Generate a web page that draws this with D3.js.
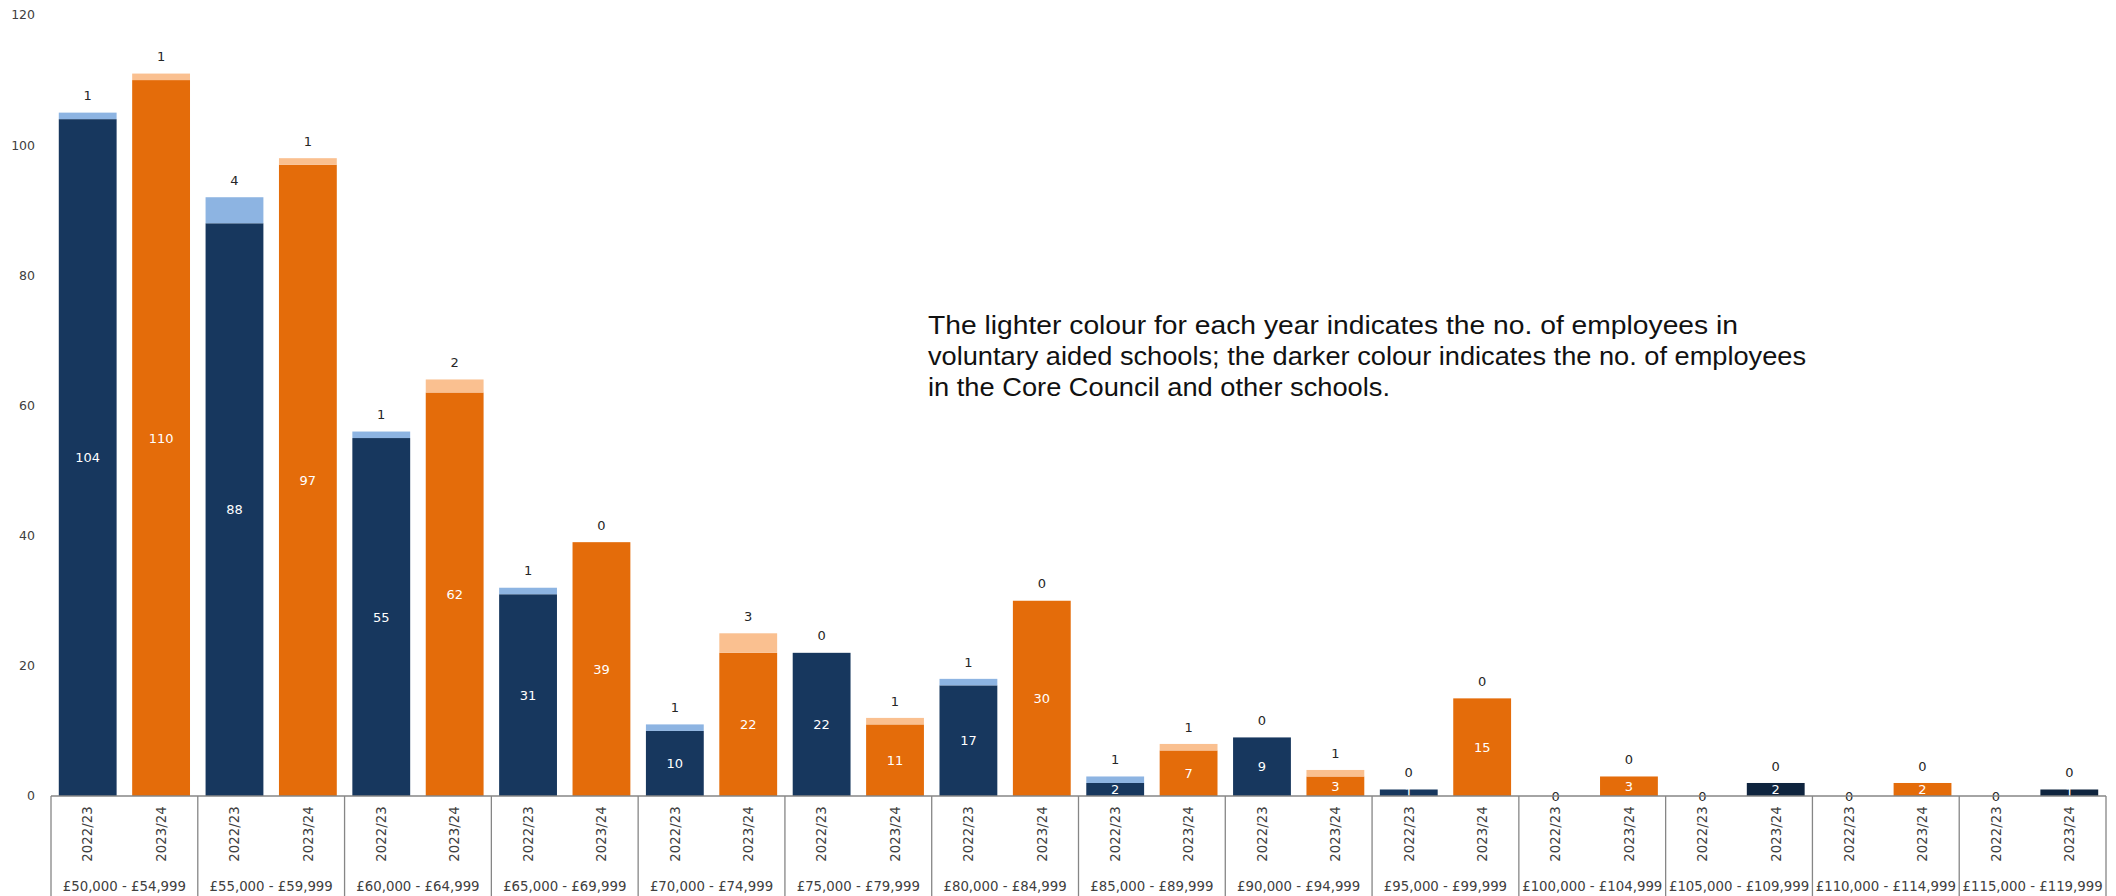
<!DOCTYPE html>
<meta charset="utf-8">
<style>
  body { margin: 0; background: #fff; }
  text { font-family: "DejaVu Sans", sans-serif; }
</style>

<!-- Load d3.js -->
<script src="https://cdn.jsdelivr.net/npm/d3@7"></script>

<div id="chart"></div>

<script>

// salary bands (outer category) and years (inner category)
var salaryBands = ["£50,000 - £54,999", "£55,000 - £59,999", "£60,000 - £64,999", "£65,000 - £69,999",
  "£70,000 - £74,999", "£75,000 - £79,999", "£80,000 - £84,999", "£85,000 - £89,999",
  "£90,000 - £94,999", "£95,000 - £99,999", "£100,000 - £104,999", "£105,000 - £109,999",
  "£110,000 - £114,999", "£115,000 - £119,999"];
var years = ["2022/23", "2023/24"];

// core council and other schools (darker colour)
var core2223 = [104, 88, 55, 31, 10, 22, 17, 2, 9, 1, 0, 0, 0, 0];
var core2324 = [110, 97, 62, 39, 22, 11, 30, 7, 3, 15, 3, 2, 2, 1];
// voluntary aided schools (lighter colour)
var va2223 = [1, 4, 1, 1, 1, 0, 1, 1, 0, 0, 0, 0, 0, 0];
var va2324 = [1, 1, 2, 0, 3, 1, 0, 1, 1, 0, 0, 0, 0, 0];

var yTicks = [0, 20, 40, 60, 80, 100, 120];

var note = ["The lighter colour for each year indicates the no. of employees in",
  "voluntary aided schools; the darker colour indicates the no. of employees",
  "in the Core Council and other schools."];
var noteWidths = [810, 878, 462];

// colours
var darkColor = {"2022/23": "#17375E", "2023/24": "#E46C0A"};
var lightColor = {"2022/23": "#8DB4E2", "2023/24": "#FAC090"};
var darkestNavy = "#0F243E";
var darkestBars = ["£105,000 - £109,999|2023/24", "£115,000 - £119,999|2023/24"];

var width = 2116, height = 896;
var plotLeft = 51, plotRight = 2106, plotBottom = 796, plotTop = 15;

var svg = d3.select("#chart")
  .append("svg")
    .attr("width", width)
    .attr("height", height);

// build rows: one per bar
var rows = [];
salaryBands.forEach(function(band, i) {
  rows.push({band: band, year: "2022/23", core: core2223[i], va: va2223[i]});
  rows.push({band: band, year: "2023/24", core: core2324[i], va: va2324[i]});
});

// scales
var x0 = d3.scaleBand()
  .domain(salaryBands)
  .range([plotLeft, plotRight])
  .padding(0);

var x1 = d3.scaleBand()
  .domain(years)
  .range([0, x0.bandwidth()])
  .paddingInner(0.212)
  .paddingOuter(0.106);

var y = d3.scaleLinear()
  .domain([0, 120])
  .range([plotBottom, plotTop]);

// y tick labels (no axis line in the original)
svg.append("g")
  .selectAll("text")
  .data(yTicks)
  .enter()
  .append("text")
    .attr("x", 35)
    .attr("y", function(d) { return y(d); })
    .attr("dy", "0.35em")
    .attr("text-anchor", "end")
    .style("font-size", "12.5px")
    .style("fill", "#404040")
    .text(function(d) { return d; });

// bars
var bars = svg.append("g")
  .selectAll("g")
  .data(rows)
  .enter()
  .append("g")
    .attr("transform", function(d) { return "translate(" + (x0(d.band) + x1(d.year)) + ",0)"; });

bars.append("rect")
  .attr("x", 0)
  .attr("width", x1.bandwidth())
  .attr("y", function(d) { return y(d.core); })
  .attr("height", function(d) { return y(0) - y(d.core); })
  .attr("fill", function(d) {
    if (darkestBars.indexOf(d.band + "|" + d.year) >= 0) return darkestNavy;
    return darkColor[d.year];
  });

bars.append("rect")
  .attr("x", 0)
  .attr("width", x1.bandwidth())
  .attr("y", function(d) { return y(d.core + d.va); })
  .attr("height", function(d) { return y(d.core) - y(d.core + d.va); })
  .attr("fill", function(d) { return lightColor[d.year]; });

// value labels for the darker part, centred inside the bar
bars.filter(function(d) { return d.core > 0; })
  .append("text")
    .attr("x", x1.bandwidth() / 2)
    .attr("y", function(d) { return (y(0) + y(d.core)) / 2; })
    .attr("dy", "0.36em")
    .attr("text-anchor", "middle")
    .style("font-size", "13px")
    .style("fill", "#fff")
    .text(function(d) { return d.core; });

// value labels for the lighter part, above the bar
bars.append("text")
  .attr("x", x1.bandwidth() / 2)
  .attr("y", function(d) {
    if (d.core + d.va == 0) return y(0);
    return y(d.core + d.va) - 17;
  })
  .attr("dy", "0.36em")
  .attr("text-anchor", "middle")
  .style("font-size", "13px")
  .style("fill", "#262626")
  .text(function(d) { return d.va; });

// category axis: baseline and group boxes
var axis = svg.append("g");

axis.append("line")
  .attr("x1", plotLeft)
  .attr("x2", plotRight)
  .attr("y1", plotBottom)
  .attr("y2", plotBottom)
  .attr("stroke", "#868686")
  .attr("stroke-width", 1.3);

axis.selectAll("line.sep")
  .data(salaryBands.concat(["end"]))
  .enter()
  .append("line")
    .attr("class", "sep")
    .attr("x1", function(d, i) { return plotLeft + i * x0.step(); })
    .attr("x2", function(d, i) { return plotLeft + i * x0.step(); })
    .attr("y1", plotBottom)
    .attr("y2", height)
    .attr("stroke", "#868686")
    .attr("stroke-width", 1.3);

// year labels, rotated
axis.selectAll("text.year")
  .data(rows)
  .enter()
  .append("text")
    .attr("class", "year")
    .attr("transform", function(d) {
      var cx = x0(d.band) + x1(d.year) + x1.bandwidth() / 2;
      return "translate(" + cx + ",834) rotate(-90)";
    })
    .attr("dy", "0.36em")
    .attr("text-anchor", "middle")
    .style("font-size", "13.3px")
    .style("fill", "#404040")
    .text(function(d) { return d.year; });

// salary band labels
axis.selectAll("text.band")
  .data(salaryBands)
  .enter()
  .append("text")
    .attr("class", "band")
    .attr("x", function(d) { return x0(d) + x0.bandwidth() / 2; })
    .attr("y", 891)
    .attr("text-anchor", "middle")
    .style("font-size", "13.3px")
    .style("fill", "#404040")
    .text(function(d) { return d; });

// explanatory note
svg.append("g")
  .selectAll("text")
  .data(note)
  .enter()
  .append("text")
    .attr("x", 928)
    .attr("y", function(d, i) { return 334 + i * 31; })
    .attr("textLength", function(d, i) { return noteWidths[i]; })
    .attr("lengthAdjust", "spacingAndGlyphs")
    .style("font-family", "'Liberation Sans', Arial, sans-serif")
    .style("font-size", "25px")
    .style("fill", "#111")
    .text(function(d) { return d; });

</script>
